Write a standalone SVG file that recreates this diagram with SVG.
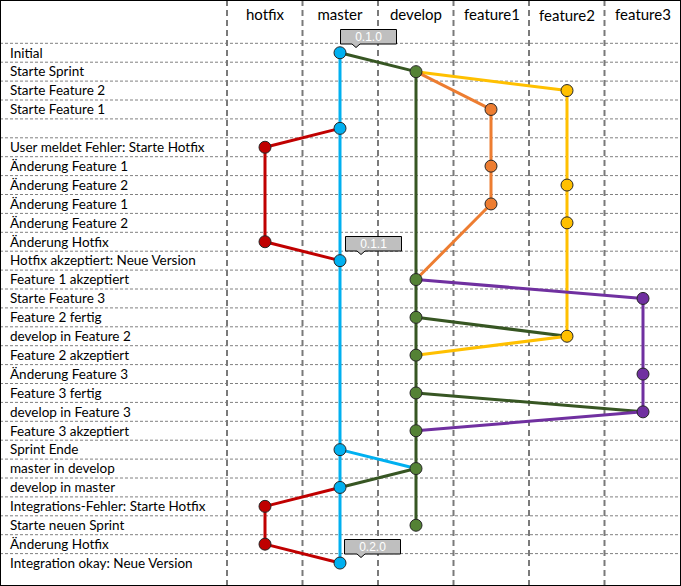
<svg xmlns="http://www.w3.org/2000/svg" width="681" height="586" viewBox="0 0 681 586">
<style>
.lbl{font-family:"Lato","Liberation Sans",sans-serif;font-size:13.5px;fill:#000}
.hdr{font-family:"Lato","Liberation Sans",sans-serif;font-size:15px;fill:#000;text-anchor:middle}
.tag{font-family:"Liberation Sans",Arial,sans-serif;font-size:12px;fill:#fff;text-anchor:middle}
.hl{stroke:#808080;stroke-width:1;stroke-dasharray:3 2;fill:none}
.vl{stroke:#7a7a7a;stroke-width:2;stroke-dasharray:6 4;fill:none}
.c{fill:none;stroke-width:3;stroke-linecap:round}
.ms{stroke:#00B0F0}.dv{stroke:#375623}.hf{stroke:#C00000}.f1{stroke:#ED7D31}.f2{stroke:#FFC000}.f3{stroke:#7030A0}
.n{stroke:#262626;stroke-width:1}
.nm{fill:#00B0F0}.nd{fill:#548235}.nh{fill:#C00000}.n1{fill:#ED7D31}.n2{fill:#FFC000}.n3{fill:#7030A0}
.box{fill:#BFBFBF;stroke:#000;stroke-width:1}
</style>
<rect x="0" y="0" width="681" height="586" fill="#fff"/>
<g id="grid">
<path class="hl" d="M0 43.3H681M0 62.2H681M0 81.1H681M0 100H681M0 118.9H681M0 137.8H681M0 156.7H681M0 175.6H681M0 194.5H681M0 213.4H681M0 232.3H681M0 251.2H681M0 270.1H681M0 289H681M0 307.9H681M0 326.8H681M0 345.7H681M0 364.6H681M0 383.5H681M0 402.4H681M0 421.3H681M0 440.2H681M0 459.1H681M0 478H681M0 496.9H681M0 515.8H681M0 534.7H681M0 553.6H681"/>
<path class="vl" d="M227 0V586M302.5 0V586M378 0V586M453.5 0V586M529 0V586M604.5 0V586"/>
</g>
<g id="headers">
<text class="hdr" x="265" y="19.5">hotfix</text>
<text class="hdr" x="340" y="19.5">master</text>
<text class="hdr" x="416" y="19.5">develop</text>
<text class="hdr" x="492" y="19.5">feature1</text>
<text class="hdr" x="567" y="20.5">feature2</text>
<text class="hdr" x="643" y="19.5">feature3</text>
</g>
<g id="labels">
<text class="lbl" x="10" y="57.5">Initial</text>
<text class="lbl" x="10" y="76.4">Starte Sprint</text>
<text class="lbl" x="10" y="95.3">Starte Feature 2</text>
<text class="lbl" x="10" y="114.2">Starte Feature 1</text>
<text class="lbl" x="10" y="152">User meldet Fehler: Starte Hotfix</text>
<text class="lbl" x="10" y="170.9">Änderung Feature 1</text>
<text class="lbl" x="10" y="189.8">Änderung Feature 2</text>
<text class="lbl" x="10" y="208.7">Änderung Feature 1</text>
<text class="lbl" x="10" y="227.6">Änderung Feature 2</text>
<text class="lbl" x="10" y="246.5">Änderung Hotfix</text>
<text class="lbl" x="10" y="265.4">Hotfix akzeptiert: Neue Version</text>
<text class="lbl" x="10" y="284.3">Feature 1 akzeptiert</text>
<text class="lbl" x="10" y="303.2">Starte Feature 3</text>
<text class="lbl" x="10" y="322.1">Feature 2 fertig</text>
<text class="lbl" x="10" y="341">develop in Feature 2</text>
<text class="lbl" x="10" y="359.9">Feature 2 akzeptiert</text>
<text class="lbl" x="10" y="378.8">Änderung Feature 3</text>
<text class="lbl" x="10" y="397.7">Feature 3 fertig</text>
<text class="lbl" x="10" y="416.6">develop in Feature 3</text>
<text class="lbl" x="10" y="435.5">Feature 3 akzeptiert</text>
<text class="lbl" x="10" y="454.4">Sprint Ende</text>
<text class="lbl" x="10" y="473.3">master in develop</text>
<text class="lbl" x="10" y="492.2">develop in master</text>
<text class="lbl" x="10" y="511.1">Integrations-Fehler: Starte Hotfix</text>
<text class="lbl" x="10" y="530">Starte neuen Sprint</text>
<text class="lbl" x="10" y="548.9">Änderung Hotfix</text>
<text class="lbl" x="10" y="567.8">Integration okay: Neue Version</text>
</g>
<g id="connectors">
<line class="c ms" x1="340" y1="52.75" x2="340" y2="563.05"/>
<line class="c dv" x1="416" y1="71.65" x2="416" y2="525.25"/>
<line class="c f1" x1="491" y1="109.45" x2="491" y2="203.95"/>
<line class="c f2" x1="567" y1="90.55" x2="567" y2="336.25"/>
<line class="c f3" x1="643" y1="298.45" x2="643" y2="411.85"/>
<line class="c hf" x1="265" y1="147.25" x2="265" y2="241.75"/>
<line class="c hf" x1="265" y1="506.35" x2="265" y2="544.15"/>
<line class="c dv" x1="340" y1="52.75" x2="416" y2="71.65"/>
<line class="c f2" x1="416" y1="71.65" x2="567" y2="90.55"/>
<line class="c f1" x1="416" y1="71.65" x2="491" y2="109.45"/>
<line class="c hf" x1="340" y1="128.35" x2="265" y2="147.25"/>
<line class="c hf" x1="265" y1="241.75" x2="340" y2="260.65"/>
<line class="c f1" x1="491" y1="203.95" x2="416" y2="279.55"/>
<line class="c f3" x1="416" y1="279.55" x2="643" y2="298.45"/>
<line class="c dv" x1="416" y1="317.35" x2="567" y2="336.25"/>
<line class="c f2" x1="567" y1="336.25" x2="416" y2="355.15"/>
<line class="c dv" x1="416" y1="392.95" x2="643" y2="411.85"/>
<line class="c f3" x1="643" y1="411.85" x2="416" y2="430.75"/>
<line class="c ms" x1="340" y1="449.65" x2="416" y2="468.55"/>
<line class="c dv" x1="416" y1="468.55" x2="340" y2="487.45"/>
<line class="c hf" x1="340" y1="487.45" x2="265" y2="506.35"/>
<line class="c hf" x1="265" y1="544.15" x2="340" y2="563.05"/>
</g>
<g id="nodes-master">
<circle class="n nm" cx="340" cy="52.75" r="6"/>
<circle class="n nm" cx="340" cy="128.35" r="6"/>
<circle class="n nm" cx="340" cy="260.65" r="6"/>
<circle class="n nm" cx="340" cy="449.65" r="6"/>
<circle class="n nm" cx="340" cy="487.45" r="6"/>
<circle class="n nm" cx="340" cy="563.05" r="6"/>
</g>
<g id="nodes-develop">
<circle class="n nd" cx="416" cy="71.65" r="6"/>
<circle class="n nd" cx="416" cy="279.55" r="6"/>
<circle class="n nd" cx="416" cy="317.35" r="6"/>
<circle class="n nd" cx="416" cy="355.15" r="6"/>
<circle class="n nd" cx="416" cy="392.95" r="6"/>
<circle class="n nd" cx="416" cy="430.75" r="6"/>
<circle class="n nd" cx="416" cy="468.55" r="6"/>
<circle class="n nd" cx="416" cy="525.25" r="6"/>
</g>
<g id="nodes-hotfix">
<circle class="n nh" cx="265" cy="147.25" r="6"/>
<circle class="n nh" cx="265" cy="241.75" r="6"/>
<circle class="n nh" cx="265" cy="506.35" r="6"/>
<circle class="n nh" cx="265" cy="544.15" r="6"/>
</g>
<g id="nodes-feature1">
<circle class="n n1" cx="491" cy="109.45" r="6"/>
<circle class="n n1" cx="491" cy="166.15" r="6"/>
<circle class="n n1" cx="491" cy="203.95" r="6"/>
</g>
<g id="nodes-feature2">
<circle class="n n2" cx="567" cy="90.55" r="6"/>
<circle class="n n2" cx="567" cy="185.05" r="6"/>
<circle class="n n2" cx="567" cy="222.85" r="6"/>
<circle class="n n2" cx="567" cy="336.25" r="6"/>
</g>
<g id="nodes-feature3">
<circle class="n n3" cx="643" cy="298.45" r="6"/>
<circle class="n n3" cx="643" cy="374.05" r="6"/>
<circle class="n n3" cx="643" cy="411.85" r="6"/>
</g>
<g id="tag-010">
<path class="box" d="M340.5 29.5H396.5V44H360L356 47.5L352 44H340.5Z"/>
<text class="tag" x="368.5" y="41.3">0.1.0</text>
</g>
<g id="tag-011">
<path class="box" d="M345.5 236.5H401.5V251H365L361 254.5L357 251H345.5Z"/>
<text class="tag" x="373.5" y="248.3">0.1.1</text>
</g>
<g id="tag-020">
<path class="box" d="M344.5 539.5H400.5V554H365L361 557.5L357 554H344.5Z"/>
<text class="tag" x="372.5" y="551.3">0.2.0</text>
</g>
<rect x="0.5" y="0.5" width="680" height="585" fill="none" stroke="#000" stroke-width="1"/>
</svg>
